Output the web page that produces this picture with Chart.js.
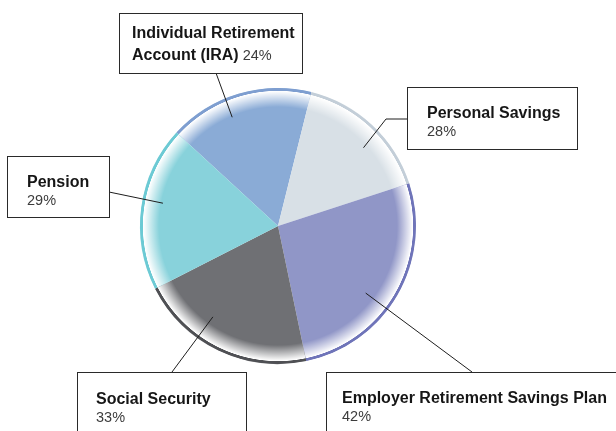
<!DOCTYPE html>
<html>
<head>
<meta charset="utf-8">
<script src="https://cdn.jsdelivr.net/npm/chart.js@4.4.1/dist/chart.umd.min.js"></script>
<style>
  html, body { margin: 0; padding: 0; background: #ffffff; }
  #wrap { width: 616px; height: 431px; position: relative; }
</style>
</head>
<body>
<div id="wrap"><canvas id="c" width="616" height="431"></canvas></div>
<script>
// ---- data ----
const categories = ['Individual Retirement Account (IRA)', 'Personal Savings', 'Employer Retirement Savings Plan', 'Social Security', 'Pension'];
const percentLabels = ['24%', '28%', '42%', '33%', '29%'];
// slice sizes as drawn in the reference (degrees of the full circle)
const sliceShares = [61.4, 58.0, 96.2, 74.8, 69.6];

// ---- styling ----
const sliceColors = ['#8aabd6', '#d8e0e6', '#9096c7', '#6f7074', '#88d2db'];
const rimColors   = ['#7e9ed0', '#c3ced8', '#6f74b9', '#4f5054', '#6ccad4'];

// label layout: box [x, y, w, h], text origin, line spec, leader (box point, slice anchor as fraction of slice angle and radius)
const labelLayout = [
  { box: [119, 13, 183, 60], tx: 132, ty: 38, lines: [[['Individual Retirement', 'b']], [['Account (IRA)', 'b'], [' ' + percentLabels[0], 'r']]],
    from: [[216, 73]], anchor: [0.40, 0.855] },
  { box: [407, 87, 170, 62], tx: 427, ty: 118, lines: [[['Personal Savings', 'b']], [[percentLabels[1], 'r']]],
    from: [[407, 119], [386, 119]], anchor: [0.578, 0.84] },
  { box: [326, 372, 300, 80], tx: 342, ty: 403, lines: [[['Employer Retirement Savings Plan', 'b']], [[percentLabels[2], 'r']]],
    from: [[472, 372]], anchor: [0.576, 0.80] },
  { box: [77, 372, 169, 80], tx: 96, ty: 404, lines: [[['Social Security', 'b']], [[percentLabels[3], 'r']]],
    from: [[172, 372]], anchor: [0.634, 0.81] },
  { box: [7, 156, 102, 61], tx: 27, ty: 187, lines: [[['Pension', 'b']], [[percentLabels[4], 'r']]],
    from: [[109, 192]], anchor: [0.549, 0.85] }
];

const rimPlugin = {
  id: 'rim',
  afterDatasetDraw(chart) {
    const ctx = chart.ctx;
    const arcs = chart.getDatasetMeta(0).data;
    arcs.forEach((arc, i) => {
      const { x, y, startAngle, endAngle, outerRadius: R } = arc.getProps(['x', 'y', 'startAngle', 'endAngle', 'outerRadius'], true);
      ctx.save();
      ctx.beginPath();
      ctx.moveTo(x, y);
      ctx.arc(x, y, R, startAngle, endAngle);
      ctx.closePath();
      ctx.clip();
      const g = ctx.createRadialGradient(x, y, 0, x, y, R);
      g.addColorStop(0, 'rgba(255,255,255,0)');
      g.addColorStop((R - 19) / R, 'rgba(255,255,255,0)');
      g.addColorStop((R - 4.5) / R, 'rgba(255,255,255,0.92)');
      g.addColorStop((R - 3.2) / R, 'rgba(255,255,255,1)');
      g.addColorStop((R - 2.6) / R, rimColors[i]);
      g.addColorStop(1, rimColors[i]);
      ctx.fillStyle = g;
      ctx.fill();
      ctx.restore();
    });
  }
};

const labelPlugin = {
  id: 'boxLabels',
  afterDraw(chart) {
    const ctx = chart.ctx;
    const arcs = chart.getDatasetMeta(0).data;
    labelLayout.forEach((L, i) => {
      const arc = arcs[i];
      const { x, y, startAngle, endAngle, outerRadius } = arc.getProps(['x', 'y', 'startAngle', 'endAngle', 'outerRadius'], true);
      const a = startAngle + (endAngle - startAngle) * L.anchor[0];
      const r = outerRadius * L.anchor[1];
      const ax = x + Math.cos(a) * r, ay = y + Math.sin(a) * r;
      ctx.save();
      // leader
      ctx.strokeStyle = '#1e1e1e';
      ctx.lineWidth = 1;
      ctx.beginPath();
      ctx.moveTo(L.from[0][0], L.from[0][1]);
      for (let k = 1; k < L.from.length; k++) ctx.lineTo(L.from[k][0], L.from[k][1]);
      ctx.lineTo(ax, ay);
      ctx.stroke();
      // box
      ctx.fillStyle = '#ffffff';
      ctx.fillRect(L.box[0], L.box[1], L.box[2], L.box[3]);
      ctx.strokeStyle = '#2a2a2a';
      ctx.strokeRect(L.box[0] + 0.5, L.box[1] + 0.5, L.box[2], L.box[3]);
      // text
      ctx.textBaseline = 'alphabetic';
      ctx.textAlign = 'left';
      let ty = L.ty;
      L.lines.forEach((line, li) => {
        let tx = L.tx;
        line.forEach(([t, w]) => {
          if (w === 'b') { ctx.font = 'bold 16px "Liberation Sans", Arial, sans-serif'; ctx.fillStyle = '#161616'; }
          else { ctx.font = '14.5px "Liberation Sans", Arial, sans-serif'; ctx.fillStyle = '#3c3c3c'; }
          ctx.fillText(t, tx, ty);
          tx += ctx.measureText(t).width;
        });
        const next = L.lines[li + 1];
        ty += (next && next.length === 1 && next[0][1] === 'r') ? 17.5 : 21.5;
      });
      ctx.restore();
    });
  }
};

new Chart(document.getElementById('c'), {
  type: 'pie',
  data: {
    labels: categories,
    datasets: [{
      data: sliceShares,
      backgroundColor: sliceColors,
      borderWidth: 0,
      hoverOffset: 0
    }]
  },
  options: {
    responsive: false,
    animation: false,
    rotation: -47.4,
    layout: { padding: { left: 140, right: 200, top: 88, bottom: 67 } },
    plugins: { legend: { display: false }, tooltip: { enabled: false } },
    events: []
  },
  plugins: [rimPlugin, labelPlugin]
});
</script>
</body>
</html>
